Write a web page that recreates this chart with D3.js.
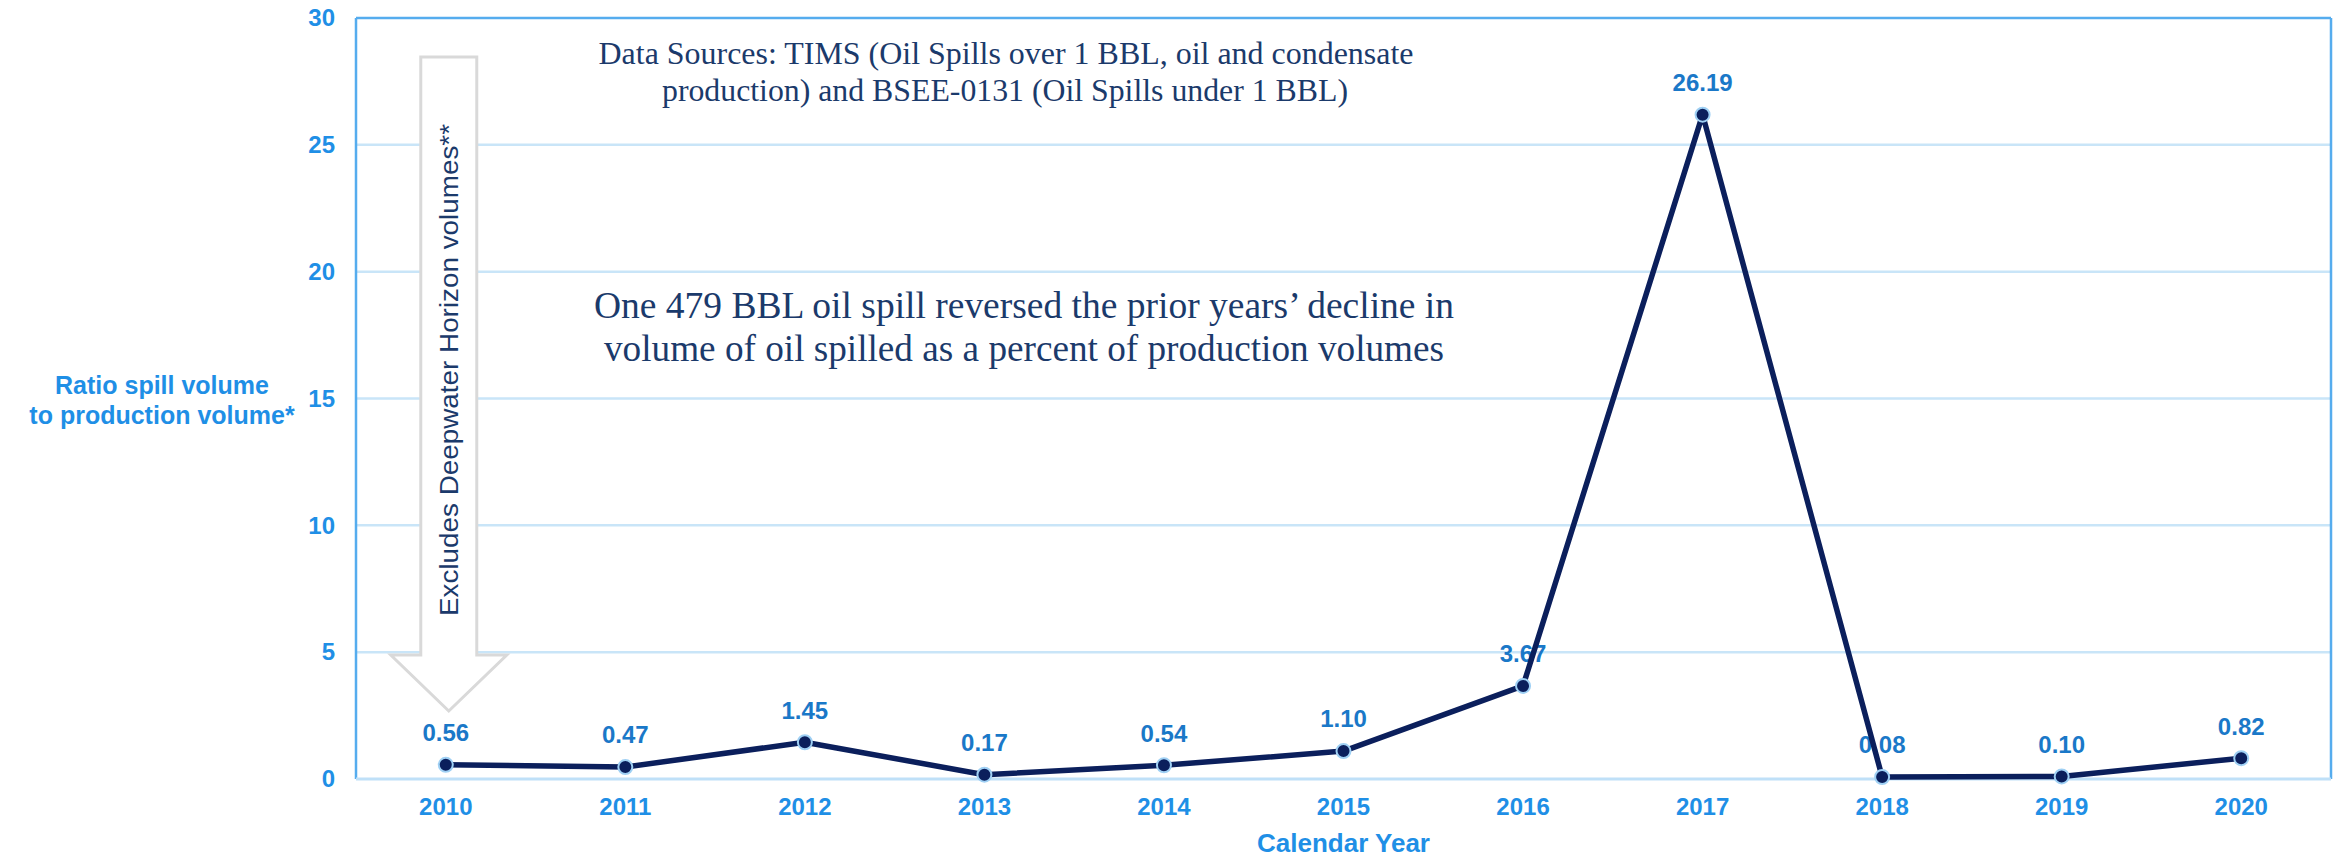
<!DOCTYPE html>
<html lang="en">
<head>
  <meta charset="utf-8">
  <title>Oil spill ratio</title>
  <script src="https://cdnjs.cloudflare.com/ajax/libs/d3/7.8.5/d3.min.js"></script>
  <style>
    body { margin: 0; background: #fff; }
    svg { display: block; }
    .tick text { font-family: "Liberation Sans", Arial, sans-serif; font-weight: bold; fill: #1f8fe6; }
    .note { font-family: "Liberation Serif", "Times New Roman", serif; fill: #1b3a6b; }
  </style>
</head>
<body>
<svg width="2339" height="857"></svg>
<script>
// chart data
var years = ["2010", "2011", "2012", "2013", "2014", "2015", "2016", "2017", "2018", "2019", "2020"];
var ratios = [0.56, 0.47, 1.45, 0.17, 0.54, 1.10, 3.67, 26.19, 0.08, 0.10, 0.82];
var yTicks = [0, 5, 10, 15, 20, 25, 30];

var svg = d3.select("svg"),
    plotLeft = 356, plotRight = 2331, plotTop = 18, plotBottom = 779;

var x = d3.scaleBand().domain(years).range([plotLeft, plotRight]).padding(0),
    y = d3.scaleLinear().domain([0, 30]).range([plotBottom, plotTop]);

var data = years.map(function(yr, i) { return {year: yr, value: ratios[i]}; });

// gridlines
svg.append("g").selectAll("line")
    .data(yTicks.filter(function(t) { return t > 0 && t < 30; }))
  .enter().append("line")
    .attr("x1", plotLeft).attr("x2", plotRight)
    .attr("y1", function(d) { return y(d); })
    .attr("y2", function(d) { return y(d); })
    .attr("stroke", "#c9e5f8")
    .attr("stroke-width", 2.5);

// plot frame
svg.append("line").attr("x1", plotLeft).attr("x2", plotRight).attr("y1", y(30)).attr("y2", y(30))
    .attr("stroke", "#55acee").attr("stroke-width", 2.5);
svg.append("line").attr("x1", plotLeft).attr("x2", plotLeft).attr("y1", y(30)).attr("y2", y(0))
    .attr("stroke", "#55acee").attr("stroke-width", 2.5);
svg.append("line").attr("x1", plotRight).attr("x2", plotRight).attr("y1", y(30)).attr("y2", y(0))
    .attr("stroke", "#55acee").attr("stroke-width", 2.5);
svg.append("line").attr("x1", plotLeft).attr("x2", plotRight).attr("y1", y(0)).attr("y2", y(0))
    .attr("stroke", "#bfe0f8").attr("stroke-width", 3);

// axes
var yAxis = svg.append("g")
    .attr("transform", "translate(" + plotLeft + ",0)")
    .call(d3.axisLeft(y).tickValues(yTicks).tickSize(0).tickPadding(21));
yAxis.select(".domain").remove();
yAxis.selectAll("text").style("font-size", "24px");

var xAxis = svg.append("g")
    .attr("transform", "translate(0," + plotBottom + ")")
    .call(d3.axisBottom(x).tickSize(0).tickPadding(19));
xAxis.select(".domain").remove();
xAxis.selectAll("text").style("font-size", "24px");

// axis titles
svg.append("text")
    .attr("x", (plotLeft + plotRight) / 2).attr("y", 843).attr("dy", "0.35em")
    .attr("text-anchor", "middle")
    .style("font", "bold 26px 'Liberation Sans', Arial, sans-serif")
    .style("fill", "#1f8fe6")
    .text("Calendar Year");

var yTitle = svg.append("text")
    .attr("text-anchor", "middle")
    .style("font", "bold 25px 'Liberation Sans', Arial, sans-serif")
    .style("fill", "#1f8fe6");
yTitle.append("tspan").attr("x", 162).attr("y", 385).attr("dy", "0.35em").text("Ratio spill volume");
yTitle.append("tspan").attr("x", 162).attr("y", 415).attr("dy", "0.35em").text("to production volume*");

// arrow callout
var ax = x("2010") + x.bandwidth() / 2 + 3;
svg.append("path")
    .attr("d", "M" + (ax - 28) + ",57 H" + (ax + 28) + " V655 H" + (ax + 58) +
         " L" + ax + ",711 L" + (ax - 58) + ",655 H" + (ax - 28) + " Z")
    .attr("fill", "#fff")
    .attr("stroke", "#d9d9d9")
    .attr("stroke-width", 3);
svg.append("text")
    .attr("transform", "translate(" + ax + ",370) rotate(-90)")
    .attr("text-anchor", "middle")
    .attr("dy", "0.35em")
    .attr("textLength", 492)
    .attr("lengthAdjust", "spacingAndGlyphs")
    .style("font", "26px 'Liberation Sans', Arial, sans-serif")
    .style("fill", "#1b3a6b")
    .text("Excludes Deepwater Horizon volumes**");

// annotations
var notes = [
  {text: "Data Sources: TIMS (Oil Spills over 1 BBL, oil and condensate", x: 1006, y: 53, len: 815, size: 31},
  {text: "production) and BSEE-0131 (Oil Spills under 1 BBL)", x: 1005, y: 90, len: 686, size: 31},
  {text: "One 479 BBL oil spill reversed the prior years\u2019 decline in", x: 1024, y: 305, len: 860, size: 37},
  {text: "volume of oil spilled as a percent of production volumes", x: 1024, y: 348, len: 840, size: 37}
];
svg.append("g").selectAll("text")
    .data(notes)
  .enter().append("text")
    .attr("class", "note")
    .attr("x", function(d) { return d.x; })
    .attr("y", function(d) { return d.y; })
    .attr("dy", "0.35em")
    .attr("text-anchor", "middle")
    .attr("textLength", function(d) { return d.len; })
    .attr("lengthAdjust", "spacingAndGlyphs")
    .style("font-size", function(d) { return d.size + "px"; })
    .text(function(d) { return d.text; });

var cx = function(d) { return x(d.year) + x.bandwidth() / 2; };

// data labels (drawn under the line)
svg.append("g").selectAll("text")
    .data(data)
  .enter().append("text")
    .attr("x", cx)
    .attr("y", function(d) { return y(d.value) - 32; })
    .attr("dy", "0.35em")
    .attr("text-anchor", "middle")
    .style("font", "bold 24px 'Liberation Sans', Arial, sans-serif")
    .style("fill", "#1a78c8")
    .text(function(d) { return d.value.toFixed(2); });

// line
var line = d3.line()
    .x(cx)
    .y(function(d) { return y(d.value); });

svg.append("path")
    .datum(data)
    .attr("d", line)
    .attr("fill", "none")
    .attr("stroke", "#0b1f5c")
    .attr("stroke-width", 5.5)
    .attr("stroke-linejoin", "round");

svg.append("g").selectAll("circle")
    .data(data)
  .enter().append("circle")
    .attr("cx", cx)
    .attr("cy", function(d) { return y(d.value); })
    .attr("r", 7)
    .attr("fill", "#0b1f5c")
    .attr("stroke", "#9fd0f4")
    .attr("stroke-width", 2);
</script>
</body>
</html>
